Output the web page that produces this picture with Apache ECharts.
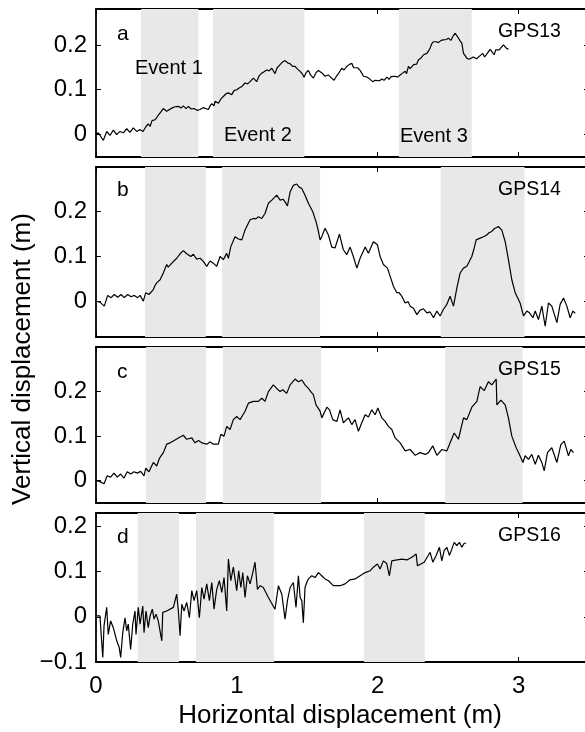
<!DOCTYPE html>
<html>
<head>
<meta charset="utf-8">
<script src="https://cdn.jsdelivr.net/npm/echarts@6/dist/echarts.min.js"></script>
<style>
  html, body { margin: 0; padding: 0; background: #fff; }
  #chart { width: 585px; height: 732px; }
</style>
</head>
<body>
<div id="chart"></div>
<script>
// GPS station tracks: [horizontal displacement (m), vertical displacement (m)]
const gps13 = [
  [0.000,0.000],[0.016,0.004],[0.052,-0.013],[0.076,0.007],[0.099,-0.002],[0.123,0.010],[0.147,0.000],
  [0.170,0.007],[0.194,0.004],[0.218,0.013],[0.241,0.005],[0.265,0.015],[0.289,0.007],[0.313,0.011],
  [0.334,0.007],[0.355,0.018],[0.371,0.024],[0.384,0.018],[0.398,0.031],[0.419,0.033],[0.440,0.042],
  [0.462,0.051],[0.478,0.058],[0.502,0.052],[0.538,0.059],[0.561,0.062],[0.585,0.063],[0.604,0.059],
  [0.620,0.064],[0.639,0.058],[0.656,0.063],[0.675,0.057],[0.696,0.058],[0.717,0.054],[0.739,0.056],
  [0.760,0.060],[0.774,0.059],[0.798,0.056],[0.810,0.064],[0.822,0.069],[0.838,0.064],[0.845,0.074],
  [0.869,0.070],[0.888,0.080],[0.904,0.085],[0.923,0.091],[0.940,0.093],[0.964,0.089],[0.980,0.098],
  [0.999,0.100],[1.016,0.104],[1.035,0.107],[1.058,0.115],[1.076,0.113],[1.094,0.118],[1.117,0.126],
  [1.141,0.118],[1.158,0.131],[1.177,0.137],[1.193,0.140],[1.212,0.144],[1.229,0.142],[1.248,0.148],
  [1.271,0.136],[1.286,0.149],[1.307,0.156],[1.325,0.162],[1.342,0.165],[1.360,0.160],[1.378,0.158],
  [1.396,0.152],[1.413,0.152],[1.431,0.146],[1.449,0.141],[1.463,0.136],[1.477,0.128],[1.491,0.138],
  [1.508,0.143],[1.523,0.133],[1.543,0.126],[1.562,0.138],[1.579,0.143],[1.591,0.147],[1.609,0.136],
  [1.626,0.130],[1.648,0.133],[1.669,0.127],[1.690,0.121],[1.705,0.129],[1.721,0.136],[1.745,0.148],
  [1.761,0.144],[1.780,0.152],[1.797,0.156],[1.816,0.159],[1.829,0.149],[1.839,0.146],[1.857,0.149],
  [1.875,0.143],[1.889,0.136],[1.898,0.130],[1.918,0.129],[1.934,0.126],[1.950,0.122],[1.965,0.118],
  [1.982,0.121],[1.996,0.122],[2.013,0.120],[2.029,0.124],[2.045,0.121],[2.065,0.128],[2.081,0.123],
  [2.095,0.129],[2.109,0.126],[2.124,0.130],[2.141,0.128],[2.159,0.133],[2.177,0.137],[2.195,0.141],
  [2.205,0.136],[2.218,0.152],[2.230,0.147],[2.242,0.144],[2.255,0.156],[2.266,0.159],[2.276,0.157],
  [2.289,0.167],[2.308,0.171],[2.325,0.178],[2.349,0.181],[2.362,0.187],[2.372,0.193],[2.383,0.202],
  [2.396,0.207],[2.415,0.207],[2.431,0.205],[2.450,0.210],[2.467,0.211],[2.486,0.212],[2.502,0.215],
  [2.519,0.210],[2.536,0.220],[2.550,0.226],[2.560,0.222],[2.573,0.215],[2.585,0.209],[2.597,0.204],
  [2.603,0.193],[2.609,0.181],[2.621,0.176],[2.633,0.170],[2.649,0.168],[2.663,0.165],[2.678,0.173],
  [2.692,0.174],[2.702,0.169],[2.715,0.168],[2.727,0.176],[2.746,0.181],[2.759,0.173],[2.770,0.173],
  [2.784,0.184],[2.798,0.190],[2.813,0.184],[2.827,0.178],[2.838,0.189],[2.850,0.193],[2.862,0.189],
  [2.874,0.189],[2.893,0.200],[2.905,0.197],[2.912,0.193],[2.928,0.190]
];

const gps14 = [
  [0.000,0.000],[0.028,-0.002],[0.059,-0.011],[0.083,0.013],[0.107,0.008],[0.130,0.015],[0.154,0.009],
  [0.178,0.015],[0.201,0.008],[0.225,0.015],[0.249,0.010],[0.272,0.013],[0.296,0.008],[0.313,0.013],
  [0.336,0.000],[0.353,0.019],[0.376,0.015],[0.407,0.026],[0.419,0.035],[0.431,0.041],[0.444,0.037],
  [0.455,0.048],[0.478,0.063],[0.502,0.082],[0.513,0.076],[0.538,0.085],[0.573,0.096],[0.597,0.106],
  [0.620,0.113],[0.644,0.106],[0.673,0.100],[0.691,0.105],[0.715,0.094],[0.739,0.096],[0.762,0.089],
  [0.786,0.078],[0.810,0.090],[0.833,0.085],[0.857,0.078],[0.881,0.100],[0.904,0.093],[0.928,0.107],
  [0.940,0.096],[0.957,0.122],[0.987,0.144],[1.011,0.139],[1.035,0.137],[1.058,0.159],[1.094,0.182],
  [1.117,0.185],[1.136,0.184],[1.153,0.189],[1.177,0.185],[1.200,0.196],[1.224,0.219],[1.248,0.226],
  [1.283,0.237],[1.307,0.226],[1.328,0.228],[1.342,0.222],[1.359,0.213],[1.378,0.244],[1.401,0.259],
  [1.425,0.262],[1.442,0.255],[1.461,0.252],[1.484,0.237],[1.508,0.219],[1.520,0.216],[1.539,0.200],
  [1.562,0.178],[1.577,0.159],[1.591,0.137],[1.605,0.146],[1.626,0.163],[1.650,0.148],[1.674,0.121],
  [1.697,0.119],[1.728,0.150],[1.756,0.115],[1.780,0.104],[1.804,0.121],[1.827,0.100],[1.852,0.074],
  [1.875,0.096],[1.911,0.121],[1.934,0.107],[1.969,0.133],[1.998,0.126],[2.017,0.100],[2.040,0.082],
  [2.069,0.074],[2.088,0.056],[2.112,0.033],[2.136,0.019],[2.152,0.019],[2.171,0.011],[2.195,-0.004],
  [2.216,-0.001],[2.230,-0.011],[2.254,-0.016],[2.278,-0.030],[2.301,-0.020],[2.325,-0.017],[2.349,-0.026],
  [2.372,-0.024],[2.396,-0.037],[2.420,-0.022],[2.443,-0.033],[2.467,-0.018],[2.491,-0.007],[2.514,0.011],
  [2.538,-0.011],[2.562,0.030],[2.585,0.063],[2.609,0.074],[2.633,0.078],[2.649,0.088],[2.668,0.100],
  [2.685,0.119],[2.699,0.137],[2.727,0.141],[2.751,0.144],[2.774,0.148],[2.790,0.153],[2.810,0.156],
  [2.827,0.162],[2.841,0.159],[2.857,0.167],[2.881,0.159],[2.905,0.133],[2.928,0.093],[2.952,0.048],
  [2.976,0.019],[3.011,-0.004],[3.035,-0.033],[3.059,-0.022],[3.077,-0.026],[3.102,-0.037],[3.118,-0.022],
  [3.141,-0.041],[3.165,-0.011],[3.189,-0.056],[3.212,-0.004],[3.236,-0.011],[3.272,-0.048],[3.295,-0.007],
  [3.319,0.007],[3.343,-0.011],[3.366,-0.037],[3.386,-0.022],[3.402,-0.027]
];

const gps15 = [
  [0.005,0.000],[0.028,-0.002],[0.057,-0.007],[0.080,0.011],[0.104,0.008],[0.128,0.017],[0.151,0.008],
  [0.175,0.015],[0.199,0.006],[0.222,0.020],[0.246,0.015],[0.270,0.020],[0.293,0.017],[0.317,0.021],
  [0.341,0.011],[0.353,0.028],[0.376,0.020],[0.407,0.041],[0.431,0.033],[0.450,0.050],[0.478,0.063],
  [0.502,0.082],[0.526,0.085],[0.549,0.089],[0.585,0.096],[0.620,0.102],[0.644,0.093],[0.680,0.096],
  [0.703,0.085],[0.727,0.090],[0.751,0.085],[0.786,0.082],[0.810,0.087],[0.833,0.082],[0.869,0.082],
  [0.886,0.104],[0.909,0.100],[0.928,0.122],[0.952,0.115],[0.975,0.137],[0.999,0.144],[1.023,0.137],
  [1.058,0.156],[1.082,0.174],[1.117,0.178],[1.153,0.178],[1.177,0.185],[1.200,0.178],[1.224,0.200],
  [1.259,0.215],[1.283,0.207],[1.307,0.200],[1.326,0.204],[1.354,0.196],[1.378,0.215],[1.413,0.228],
  [1.437,0.222],[1.461,0.226],[1.484,0.215],[1.508,0.207],[1.525,0.200],[1.543,0.193],[1.562,0.170],
  [1.591,0.156],[1.603,0.141],[1.639,0.165],[1.658,0.159],[1.681,0.137],[1.710,0.133],[1.733,0.159],
  [1.756,0.130],[1.792,0.141],[1.816,0.126],[1.839,0.137],[1.863,0.111],[1.887,0.130],[1.911,0.148],
  [1.934,0.143],[1.958,0.159],[1.982,0.148],[2.001,0.163],[2.029,0.141],[2.053,0.133],[2.076,0.122],
  [2.100,0.115],[2.124,0.096],[2.159,0.085],[2.195,0.067],[2.230,0.070],[2.266,0.057],[2.301,0.063],
  [2.337,0.059],[2.360,0.063],[2.391,0.078],[2.420,0.057],[2.455,0.070],[2.491,0.067],[2.514,0.085],
  [2.543,0.107],[2.573,0.093],[2.609,0.141],[2.633,0.137],[2.668,0.165],[2.704,0.178],[2.727,0.211],
  [2.756,0.202],[2.786,0.222],[2.810,0.215],[2.841,0.228],[2.846,0.170],[2.874,0.181],[2.905,0.170],
  [2.928,0.141],[2.952,0.100],[2.983,0.074],[3.006,0.059],[3.031,0.041],[3.047,0.056],[3.070,0.048],
  [3.094,0.059],[3.118,0.037],[3.141,0.057],[3.165,0.041],[3.182,0.022],[3.205,0.063],[3.236,0.074],
  [3.272,0.041],[3.300,0.081],[3.324,0.089],[3.354,0.056],[3.371,0.070],[3.390,0.063]
];

const gps16 = [
  [0.005,0.002],[0.028,0.002],[0.048,-0.090],[0.057,-0.020],[0.076,0.021],[0.087,-0.039],[0.104,-0.009],
  [0.123,-0.024],[0.147,-0.053],[0.165,-0.068],[0.175,-0.090],[0.190,-0.035],[0.206,-0.002],[0.218,-0.031],
  [0.229,-0.016],[0.246,-0.072],[0.261,-0.016],[0.277,0.013],[0.284,-0.039],[0.300,0.021],[0.313,-0.016],
  [0.332,0.024],[0.341,-0.035],[0.355,0.013],[0.371,-0.024],[0.384,0.002],[0.400,0.017],[0.412,-0.005],
  [0.426,0.006],[0.442,-0.009],[0.467,-0.053],[0.474,0.010],[0.502,0.013],[0.549,0.021],[0.573,0.050],
  [0.585,0.013],[0.597,-0.042],[0.609,0.028],[0.625,0.013],[0.644,0.032],[0.663,-0.002],[0.680,0.058],
  [0.696,0.036],[0.715,0.058],[0.734,-0.002],[0.751,0.065],[0.767,0.039],[0.786,0.073],[0.805,0.036],
  [0.822,0.076],[0.838,0.017],[0.857,0.061],[0.876,0.080],[0.893,0.054],[0.909,0.087],[0.928,0.013],
  [0.940,0.128],[0.957,0.080],[0.975,0.110],[0.999,0.058],[1.013,0.102],[1.028,0.065],[1.042,0.098],
  [1.058,0.043],[1.075,0.091],[1.094,0.073],[1.113,0.098],[1.129,0.121],[1.146,0.061],[1.165,0.069],
  [1.188,0.065],[1.224,0.043],[1.271,0.017],[1.295,0.069],[1.319,0.050],[1.342,-0.005],[1.359,0.036],
  [1.378,0.065],[1.401,0.076],[1.420,0.021],[1.437,0.091],[1.449,0.043],[1.461,0.036],[1.472,-0.013],
  [1.484,0.065],[1.496,0.076],[1.508,0.084],[1.532,0.091],[1.555,0.087],[1.579,0.098],[1.603,0.091],
  [1.626,0.084],[1.650,0.080],[1.685,0.069],[1.733,0.069],[1.768,0.073],[1.804,0.082],[1.839,0.084],
  [1.875,0.091],[1.911,0.098],[1.946,0.102],[1.969,0.110],[1.998,0.117],[2.017,0.106],[2.040,0.124],
  [2.064,0.118],[2.083,0.091],[2.100,0.124],[2.136,0.126],[2.171,0.128],[2.207,0.126],[2.242,0.132],
  [2.273,0.139],[2.282,0.113],[2.306,0.117],[2.330,0.121],[2.353,0.133],[2.372,0.143],[2.391,0.121],
  [2.415,0.136],[2.438,0.154],[2.455,0.124],[2.472,0.147],[2.491,0.154],[2.509,0.136],[2.526,0.150],
  [2.543,0.165],[2.562,0.158],[2.580,0.165],[2.597,0.154],[2.614,0.163],[2.628,0.163]
];

// Shaded event windows per station (start, end horizontal displacement, m)
const events13 = [[0.320, 0.727], [0.831, 1.479], [2.152, 2.668]];
const events14 = [[0.348, 0.779], [0.895, 1.591], [2.448, 3.042]];
const events15 = [[0.355, 0.781], [0.900, 1.598], [2.479, 3.028]];
const events16 = [[0.296, 0.589], [0.710, 1.264], [1.903, 2.334]];

const stationNames = ['GPS13', 'GPS14', 'GPS15', 'GPS16'];
const panelLetters = ['a', 'b', 'c', 'd'];
const eventNames = ['Event 1', 'Event 2', 'Event 3'];

const xTicks = [0, 1, 2, 3];
const xRange = [0, 3.5];
const yTicks = [[0, 0.1, 0.2], [0, 0.1, 0.2], [0, 0.1, 0.2], [-0.1, 0, 0.1, 0.2]];
const yRanges = [[-0.05, 0.28], [-0.08, 0.30], [-0.05, 0.30], [-0.10, 0.23]];

const series = [gps13, gps14, gps15, gps16];
const events = [events13, events14, events15, events16];

// Panel boxes in pixels
const panelLeft = 96, panelWidth = 493;
const panelBoxes = [
  { top: 9, height: 148 },
  { top: 167, height: 170 },
  { top: 347, height: 156 },
  { top: 513, height: 149 }
];

const FONT = '"Liberation Sans", Arial, Helvetica, sans-serif';
const fmt = v => (v < 0 ? '\u2212' + String(-v) : String(v));

const grid = [], xAxis = [], yAxis = [], seriesOpt = [];
panelBoxes.forEach((b, i) => {
  grid.push({ left: panelLeft, width: panelWidth, top: b.top, height: b.height, outerBoundsMode: 'none', containLabel: false });
  const isBottom = i === panelBoxes.length - 1;
  const axisLine = { show: true, onZero: false, lineStyle: { color: '#000', width: 1.8 } };
  const tick = (vals) => ({ show: true, inside: true, length: 5, customValues: vals, lineStyle: { color: '#000', width: 1 } });
  xAxis.push({
    type: 'value', gridIndex: i, position: 'bottom', min: xRange[0], max: xRange[1],
    axisLine, axisTick: tick(xTicks), splitLine: { show: false },
    axisLabel: { show: isBottom, customValues: xTicks, formatter: fmt, margin: 12, color: '#000', fontSize: 24, fontFamily: FONT }
  });
  xAxis.push({
    type: 'value', gridIndex: i, position: 'top', min: xRange[0], max: xRange[1],
    axisLine, axisTick: tick(xTicks), splitLine: { show: false }, axisLabel: { show: false }
  });
  yAxis.push({
    type: 'value', gridIndex: i, position: 'left', min: yRanges[i][0], max: yRanges[i][1],
    axisLine, axisTick: tick(yTicks[i]), splitLine: { show: false },
    axisLabel: { show: true, customValues: yTicks[i], formatter: fmt, margin: 9, color: '#000', fontSize: 24, fontFamily: FONT }
  });
  yAxis.push({
    type: 'value', gridIndex: i, position: 'right', min: yRanges[i][0], max: yRanges[i][1],
    axisLine, axisTick: tick(yTicks[i]), splitLine: { show: false }, axisLabel: { show: false }
  });
  seriesOpt.push({
    type: 'line', name: stationNames[i], xAxisIndex: 2 * i, yAxisIndex: 2 * i,
    data: series[i], showSymbol: false, symbol: 'none', silent: true,
    lineStyle: { color: '#000', width: 1.2 },
    markArea: {
      silent: true,
      itemStyle: { color: '#e8e8e8' },
      data: events[i].map(e => [{ xAxis: e[0] }, { xAxis: e[1] }])
    }
  });
});

// Text annotations
const txt = (text, x, y, size, align, extra) => Object.assign({
  type: 'text', x, y, z: 100,
  style: { text, fill: '#000', font: size + 'px ' + FONT, textAlign: align || 'left', textVerticalAlign: 'middle' }
}, extra || {});

const graphic = [];
const letterY = [34, 190, 372, 537];
panelLetters.forEach((l, i) => graphic.push(txt(l, 117, letterY[i], 21)));
const gpsY = [32, 190, 370, 536];
stationNames.forEach((s, i) => graphic.push(txt(s, 498, gpsY[i], 19.5)));
graphic.push(txt(eventNames[0], 135, 68, 20));
graphic.push(txt(eventNames[1], 224, 135, 20));
graphic.push(txt(eventNames[2], 400, 136, 20));
graphic.push(txt('Vertical displacement (m)', 23, 359, 26, 'center', { rotation: Math.PI / 2 }));
graphic.push(txt('Horizontal displacement (m)', 340, 716, 26, 'center'));

const chart = echarts.init(document.getElementById('chart'), null, { renderer: 'canvas' });
chart.setOption({
  animation: false,
  backgroundColor: '#fff',
  textStyle: { fontFamily: FONT },
  grid, xAxis, yAxis,
  series: seriesOpt,
  graphic
});
</script>
</body>
</html>
